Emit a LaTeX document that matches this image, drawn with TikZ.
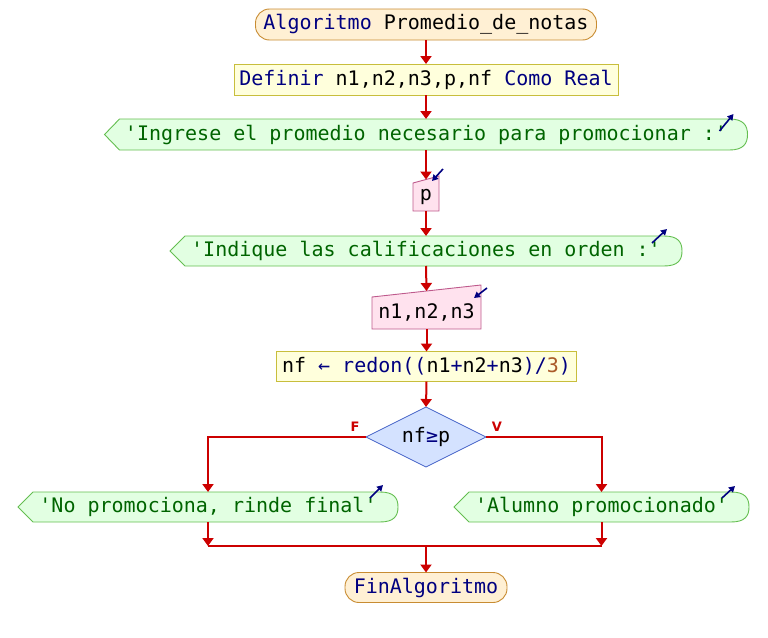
\documentclass[tikz,border=0pt]{standalone}
\usepackage{fontspec}
\setmonofont{DejaVu Sans Mono}
\newfontfamily\lblfont{DejaVu Sans}
\usetikzlibrary{shapes.geometric,arrows.meta,calc,backgrounds}
\definecolor{kw}{RGB}{0,0,128}
\definecolor{strc}{RGB}{0,100,0}
\definecolor{numc}{RGB}{170,90,40}
\definecolor{flowc}{RGB}{204,0,0}
\definecolor{termF}{RGB}{255,240,212}
\definecolor{termD}{RGB}{200,140,50}
\definecolor{procF}{RGB}{255,255,220}
\definecolor{procD}{RGB}{200,190,60}
\definecolor{outF}{RGB}{226,255,226}
\definecolor{outD}{RGB}{100,190,80}
\definecolor{inF}{RGB}{255,226,238}
\definecolor{inD}{RGB}{190,90,140}
\definecolor{decF}{RGB}{212,226,255}
\definecolor{decD}{RGB}{70,100,200}
\tikzset{
  base/.style={inner sep=0pt, outer sep=0pt, font=\ttfamily\fontsize{20}{22}\selectfont},
  term/.style={base, draw=termD, fill=termF, line width=0.9pt, rounded corners=14pt},
  proc/.style={base, draw=procD, fill=procF, line width=0.9pt},
  frame/.style={base, draw=none},
  outtxt/.style={frame, text=strc},
  outsty/.style={draw=outD, fill=outF, line width=0.9pt},
  insty/.style={draw=inD, fill=inF, line width=0.9pt},
  decis/.style={base, diamond, aspect=2, draw=decD, fill=decF, line width=0.7pt},
  flow/.style={draw=flowc, line width=2pt, -{Triangle[length=8pt,width=11pt]}},
  flowline/.style={draw=flowc, line width=2pt},
  ioarrow/.style={draw=kw, line width=1.6pt, -{Triangle[length=6pt,width=6.5pt]}},
  lbl/.style={font=\lblfont\bfseries\fontsize{13}{13}\selectfont, text=flowc, inner sep=0pt},
}
\newcommand{\outpath}[1]{%
  \path[outsty] (#1.west) -- ([xshift=15pt]#1.north west) -- ([xshift=-18pt]#1.north east)
    .. controls ([xshift=-4pt]#1.north east) and ([yshift=9pt]#1.east) .. (#1.east)
    .. controls ([yshift=-9pt]#1.east) and ([xshift=-4pt]#1.south east) .. ([xshift=-18pt]#1.south east)
    -- ([xshift=15pt]#1.south west) -- cycle;}
\newcommand{\inpath}[2]{%
  \path[insty] ([yshift=-#2]#1.north west) -- (#1.north east) -- (#1.south east) -- (#1.south west) -- cycle;}
\begin{document}
\begin{tikzpicture}[x=1pt,y=-1pt]
\useasboundingbox (0,0) rectangle (768,637);
% nodes
\node[term, minimum width=341pt, minimum height=31pt] (start) at (426,24.5)
  {\textcolor{kw}{Algoritmo} Promedio\_de\_notas};
\node[proc, minimum width=384pt, minimum height=31pt] (def) at (426,79.5)
  {\textcolor{kw}{Definir} n1,n2,n3,p,nf \textcolor{kw}{Como Real}};
\node[outtxt, minimum width=643pt, minimum height=31pt] (o1) at (426,134.5)
  {'Ingrese el promedio necesario para promocionar :'};
\node[frame, minimum width=26pt, minimum height=35pt,
  label={[base, yshift=-3pt]center:p}] (ip) at (426,193.5) {};
\node[outtxt, minimum width=512pt, minimum height=30pt] (o2) at (426,251)
  {'Indique las calificaciones en orden :'};
\node[frame, minimum width=109pt, minimum height=44pt,
  label={[base, yshift=-5pt]center:{n1,n2,n3}}] (in2) at (426.5,307) {};
\node[proc, minimum width=300pt, minimum height=30pt] (asg) at (426.5,366.5)
  {nf \textcolor{kw}{← redon((}n1\textcolor{kw}{+}n2\textcolor{kw}{+}n3\textcolor{kw}{)/}\textcolor{numc}{3}\textcolor{kw}{)}};
\node[decis, minimum width=120pt, minimum height=60pt] (dec) at (426,437)
  {nf\textcolor{kw}{≥}p};
\node[lbl] (lF) at (355,427) {F};
\node[lbl] (lV) at (497,427) {V};
\node[outtxt, minimum width=380pt, minimum height=30pt] (oL) at (208,507)
  {'No promociona, rinde final'};
\node[outtxt, minimum width=295pt, minimum height=30pt] (oR) at (601.5,507)
  {'Alumno promocionado'};
\coordinate (join) at (426,546);
\node[term, minimum width=162pt, minimum height=30pt] (end) at (426,587.5)
  {\textcolor{kw}{FinAlgoritmo}};
% shapes behind text
\begin{pgfonlayer}{background}
  \outpath{o1}
  \outpath{o2}
  \outpath{oL}
  \outpath{oR}
  \inpath{ip}{7pt}
  \inpath{in2}{12pt}
\end{pgfonlayer}
% small io arrows
\draw[ioarrow] ([xshift=-28pt,yshift=-12pt]o1.north east) -- ([xshift=-14pt,yshift=5pt]o1.north east);
\draw[ioarrow] ([xshift=-30pt,yshift=-7pt]o2.north east) -- ([xshift=-15pt,yshift=7pt]o2.north east);
\draw[ioarrow] ([xshift=-28pt,yshift=-6pt]oL.north east) -- ([xshift=-15pt,yshift=7pt]oL.north east);
\draw[ioarrow] ([xshift=-27pt,yshift=-6pt]oR.north east) -- ([xshift=-14pt,yshift=6pt]oR.north east);
\draw[ioarrow] ([xshift=4pt,yshift=7pt]ip.north east) -- ([xshift=-7pt,yshift=-5pt]ip.north east);
\draw[ioarrow] ([xshift=6pt,yshift=-3pt]in2.north east) -- ([xshift=-7pt,yshift=-13pt]in2.north east);
% connectors
\draw[flow] (start) -- (def);
\draw[flow] (def) -- (o1);
\draw[flow] (o1.south) -- ([yshift=-3.5pt]ip.north);
\draw[flow] (ip.south) -- (o2.north);
\draw[flow] (o2.south) -- ([yshift=-6pt]in2.north);
\draw[flow] (in2.south) -- (asg.north);
\draw[flow] (asg.south) -- (dec.north);
\draw[flow] (dec.west) -| (oL.north);
\draw[flow] (dec.east) -| (oR.north);
\draw[flow] (oL.south) -- (oL.south |- join);
\draw[flow] (oR.south) -- (oR.south |- join);
\draw[flowline] (oL.south |- join) -- (oR.south |- join);
\draw[flow] (join) -- (end.north);
\end{tikzpicture}
\end{document}
